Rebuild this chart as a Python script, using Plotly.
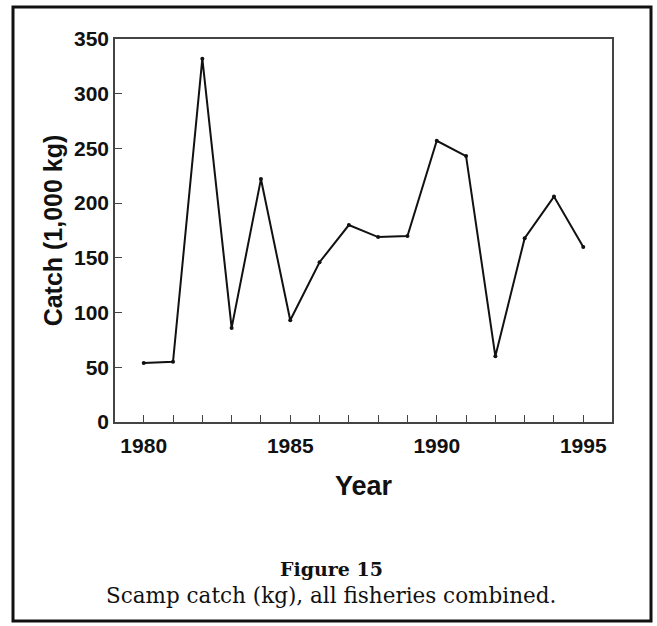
import plotly.graph_objects as go

years = list(range(1980, 1996))
catch = [54, 55, 332, 86, 222, 93, 146, 180, 169, 170, 257, 243, 60, 168, 206, 160]

x_tick_vals = [1980, 1985, 1990, 1995]
y_tick_vals = [0, 50, 100, 150, 200, 250, 300, 350]

W, H = 657, 626
L, R, T, B = 115, 612, 39, 422

fig = go.Figure()
fig.add_trace(go.Scatter(
    x=years, y=catch, mode="lines+markers",
    line=dict(color="#111111", width=2),
    marker=dict(color="#111111", size=4),
    showlegend=False, hoverinfo="skip",
))

def px_x(p):
    return (p - L) / (R - L)

def px_y(p):
    return (B - p) / (B - T)

SANS = "Liberation Sans, Arial, sans-serif"
SERIF = "DejaVu Serif, Liberation Serif, serif"

fig.update_layout(
    width=W, height=H,
    margin=dict(l=L, r=W - R, t=T, b=H - B),
    paper_bgcolor="white", plot_bgcolor="white",
    font=dict(family=SANS, color="#111111"),
    xaxis=dict(
        range=[1979.02, 1995.98],
        tickvals=x_tick_vals,
        ticks="inside", ticklen=7, tickwidth=1, tickcolor="#444444",
        minor=dict(dtick=1, tick0=1980, ticks="inside", ticklen=7, tickwidth=1, tickcolor="#444444"),
        showline=True, linecolor="#444444", linewidth=1.5, mirror=True,
        showgrid=False, zeroline=False,
        tickfont=dict(size=21, family=SANS, weight="bold"),
        ticklabelstandoff=4,
        title=dict(text="<b>Year</b>", font=dict(size=27, family=SANS), standoff=20),
    ),
    yaxis=dict(
        range=[0, 350],
        tickvals=y_tick_vals,
        ticks="inside", ticklen=7, tickwidth=1, tickcolor="#444444",
        showline=True, linecolor="#444444", linewidth=1.5, mirror=True,
        showgrid=False, zeroline=False,
        tickfont=dict(size=21, family=SANS, weight="bold"),
        title=dict(text="<b>Catch (1,000 kg)</b>", font=dict(size=25, family=SANS), standoff=4),
    ),
    shapes=[dict(
        type="rect", xref="paper", yref="paper",
        x0=px_x(13), x1=px_x(651), y0=px_y(621), y1=px_y(7),
        line=dict(color="#111111", width=3), layer="below",
    )],
    annotations=[
        dict(text="<b>Figure 15</b>", xref="paper", yref="paper",
             x=px_x(331), y=px_y(569), yanchor="middle", showarrow=False,
             font=dict(family=SERIF, size=19, color="#111111")),
        dict(text="Scamp catch (kg), all fisheries combined.", xref="paper", yref="paper",
             x=px_x(331), y=px_y(595), yanchor="middle", showarrow=False,
             font=dict(family=SERIF, size=21.5, color="#111111")),
    ],
)

fig.write_html("out.html", config={"displayModeBar": False},
               post_script="document.body.style.margin='0';document.body.style.overflow='hidden';")
